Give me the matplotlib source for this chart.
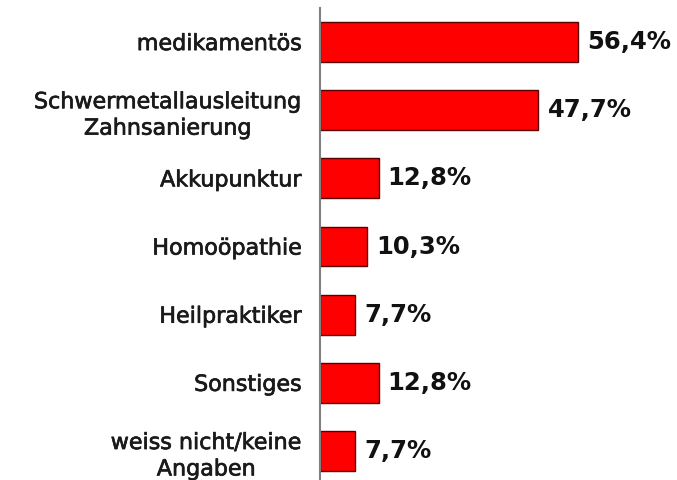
import matplotlib
matplotlib.use("Agg")
import matplotlib.pyplot as plt
import matplotlib.patheffects as pe

categories = ["medikamentös", "Schwermetallausleitung\nZahnsanierung", "Akkupunktur",
              "Homoöpathie", "Heilpraktiker", "Sonstiges", "weiss nicht/keine\nAngaben"]
values = [56.4, 47.7, 12.8, 10.3, 7.7, 12.8, 7.7]
value_labels = ["56,4%", "47,7%", "12,8%", "10,3%", "7,7%", "12,8%", "7,7%"]


def main():
    fig = plt.figure(figsize=(6.77, 4.8), dpi=100)
    ax = fig.add_axes([320 / 677, 0, 1 - 320 / 677, 472 / 480])
    pos = list(range(len(categories)))
    ax.barh(pos, values, height=0.585, color="#ff0000", edgecolor="#5a0000", linewidth=1)
    for p, v, t in zip(pos, values, value_labels):
        ax.text(v + 2.0, p, t, va="center", ha="left", fontsize=17.5,
                fontweight="bold", color="#111111")
    ax.set_xlim(0, 78)
    ax.set_ylim(6.425, -0.5)
    ax.set_yticks(pos)
    ax.set_yticklabels(categories, fontsize=16, color="#1a1a1a")
    for lbl in ax.get_yticklabels():
        lbl.set_multialignment("center")
        lbl.set_linespacing(1.4)
        lbl.set_path_effects([pe.withStroke(linewidth=0.5, foreground="#1a1a1a")])
    ax.tick_params(axis="y", length=0, pad=13)
    ax.set_xticks([])
    for s in ["top", "right", "bottom"]:
        ax.spines[s].set_visible(False)
    ax.spines["left"].set_color("#808080")
    ax.spines["left"].set_linewidth(1.5)
    fig.savefig("out.png", dpi=100)


if __name__ == '__main__':
    main()
